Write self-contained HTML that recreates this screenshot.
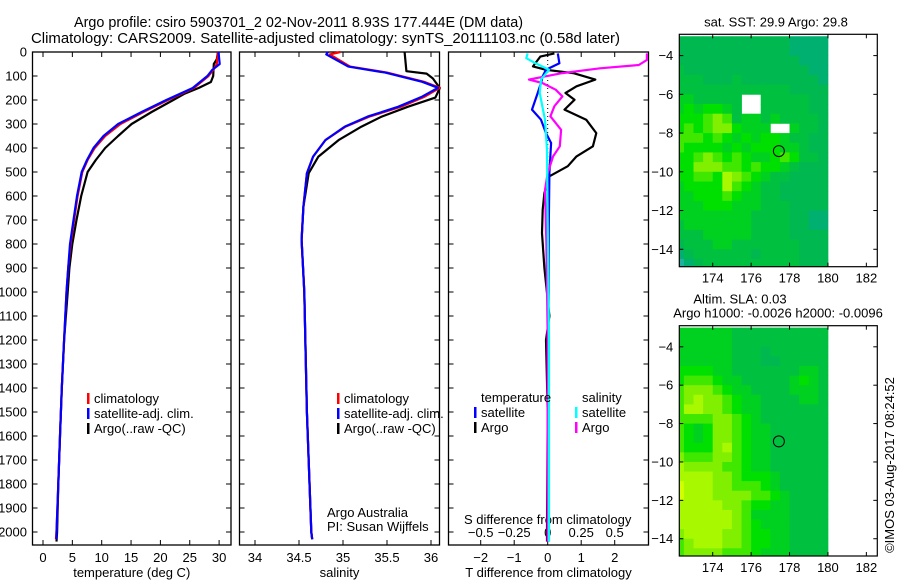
<!DOCTYPE html>
<html><head><meta charset="utf-8">
<style>
html,body{margin:0;padding:0;background:#fff;}
svg{display:block;font-family:"Liberation Sans",sans-serif;}
text{font-size:13px;fill:#000;}
</style></head>
<body>
<svg id="fig" width="900" height="580" viewBox="0 0 900 580">
<text x="74" y="27" textLength="449" lengthAdjust="spacingAndGlyphs" style="font-size:15px">Argo profile: csiro 5903701_2 02-Nov-2011 8.93S 177.444E (DM data)</text>
<text x="31" y="43" textLength="589" lengthAdjust="spacingAndGlyphs" style="font-size:15px">Climatology: CARS2009. Satellite-adjusted climatology: synTS_20111103.nc (0.58d later)</text>
<text transform="translate(894,465) rotate(-90)" text-anchor="middle">©IMOS 03-Aug-2017 08:24:52</text>
</svg>
<script>
// ---------- data ----------
const depthTicks=[0,100,200,300,400,500,600,700,800,900,1000,1100,1200,1300,1400,1500,1600,1700,1800,1900,2000];
const tempTicks=[0,5,10,15,20,25,30];
const salTicks=[34,34.5,35,35.5,36];
const tdiffTicks=[-2,-1,0,1,2];
const sdiffTicks=[-0.5,-0.25,0,0.25,0.5];
const sdiffLabels=["\u22120.5","\u22120.25","0","0.25","0.5"];
const tdiffLabels=["\u22122","\u22121","0","1","2"];

const argoTDepth=[0,30,50,100,125,150,175,200,250,300,350,400,450,500,600,700,800,900,1000,1200,1400,1600,1800,2000,2040];
const argoT=[29.8,29.6,29.1,29.0,28.6,26.5,24.0,22.2,18.5,15.1,12.8,10.6,9.0,7.6,6.5,5.7,5.0,4.5,4.2,3.6,3.2,2.9,2.6,2.4,2.3];
const satTDepth=[0,50,75,100,150,200,250,300,350,400,450,500,600,700,800,900,1000,1200,1400,1600,1800,2000,2030];
const satT=[29.9,30.1,28.8,28.0,25.5,21.0,16.8,12.8,10.3,8.6,7.5,6.6,5.8,5.2,4.6,4.3,4.0,3.6,3.2,2.9,2.6,2.3,2.3];
const climT=[29.8,29.6,29.0,28.2,25.7,21.3,17.1,13.2,10.6,8.8,7.6,6.7,5.9,5.3,4.7,4.3,4.0,3.6,3.2,2.9,2.6,2.3,2.2];

const satSDepth=[0,10,61,86,124,149,186,228,269,311,367,436,505,645,783,1000,1500,2000,2030];
const satS=[34.83,34.81,35.06,35.48,35.9,36.08,35.9,35.63,35.28,35.02,34.8,34.66,34.59,34.55,34.53,34.56,34.59,34.64,34.65];
const climS=[34.97,34.85,35.08,35.5,35.92,36.1,35.93,35.66,35.3,35.03,34.8,34.66,34.59,34.55,34.53,34.56,34.59,34.64,34.65];
const argoSDepth=[0,80,90,110,150,190,228,269,311,367,436,505,645,783,1000,1500,2000,2030];
const argoS=[35.7,35.72,35.95,36.02,36.1,36.05,35.74,35.44,35.21,34.95,34.72,34.61,34.55,34.53,34.56,34.59,34.64,34.65];

const dTDepth=[6,19,60,74,88,115,143,171,199,240,282,338,393,435,476,518,588,657,754,900,1100,1200,1500,2000,2040];
const argoDT=[0.2,-0.22,-0.44,-0.05,0.76,1.42,0.86,0.53,0.8,0.5,1.15,1.45,1.35,0.86,0.6,0.05,-0.1,-0.15,-0.17,-0.1,0.05,-0.05,0,-0.02,-0.02];
const satDTDepth=[6,47,74,101,129,171,240,282,338,379,504,754,1000,1250,1500,2000,2040];
const satDT=[0.3,0.35,-0.05,-0.15,-0.2,-0.3,-0.47,-0.2,-0.05,0.1,0.05,0.03,0.03,0.0,0.03,0.03,0.03];
const dSDepth=[6,33,54,68,88,115,129,157,185,226,268,324,393,435,504,574,800,1200,2000,2040];
const argoDS=[0.74,0.74,0.68,0.39,0.11,-0.14,-0.04,0.06,0.11,0.05,0.02,0.1,0.09,0.04,0,-0.02,-0.01,0,0,0];
const satDSDepth=[6,26,47,74,115,171,282,407,700,1200,2000,2040];
const satDS=[-0.15,-0.16,-0.09,0.01,-0.05,-0.06,-0.02,-0.005,0,0.01,0.01,0.01];

const lonTicks=[174,176,178,180,182];
const latTicks=[-4,-6,-8,-10,-12,-14];
const mapLon0=172.0, mapLat0=-3.0, cell=0.5;
const sstGrid=["2222222222221111","2222222222221111","2222222222222111","3222222222222211","3332223222222221","3333333333332222","4433333..3333322","4545543..3333322","5556763443433332","5656775444..4332","6665654545543322","6555545455544322","5567656544565332","5577766565543222","5566587654332222","4555586543322222","4455565443322222","4445554443332222","4444444433332211","3444444433332211","3334444433332222","2333443333333222","1233333323333222","0123333333333222"];
const slaGrid=["4444443333333333","4444443333333333","4444443332333333","4444443332233333","5555443333333443","5666544333334543","6777654433334443","6787765443333443","6887765443333333","6666776543333333","6545776544333333","6545776544333333","6555786544333333","7666776544333333","8777766544333333","8888776555433333","9888776665433333","9888777766543333","8888877655443333","8888887644443333","8888887654443333","7888877655443333","6788877655443333","6777766654443333"];
const palette=["#20b0a0","#00b070","#00b850","#00c040","#00d020","#00e000","#40e800","#80f000","#a8f800","#d0ff00"];
const argoLon=177.444, argoLat=-8.93;

// ---------- helpers ----------
const NS="http://www.w3.org/2000/svg";
const svg=document.getElementById('fig');
function mk(tag,attrs,parent){const e=document.createElementNS(NS,tag);for(const k in attrs)e.setAttribute(k,attrs[k]);(parent||svg).appendChild(e);return e;}
function txt(x,y,s,anchor,parent){const t=mk('text',{x:x,y:y,'text-anchor':anchor||'middle'},parent);t.textContent=s;return t;}

const TOP=52, BOT=545;
const yD=d=>TOP+d*0.24;

function panel(name,x0,x1,xs,ticks,labels,xlabel){
  const g=mk('g',{});
  
  
  const fr=mk('rect',{x:x0,y:TOP,width:x1-x0,height:BOT-TOP,fill:'none',stroke:'#000','stroke-width':1.3},g);
  
  
  ticks.forEach((v,i)=>{const x=xs(v);
    mk('line',{x1:x,y1:TOP,x2:x,y2:TOP+5,stroke:'#000'},g);
    mk('line',{x1:x,y1:BOT,x2:x,y2:BOT-5,stroke:'#000'},g);
    if(labels){const t=txt(x,562,labels[i],'middle',g);
      
      }
  });
  depthTicks.forEach(d=>{const y=yD(d);
    mk('line',{x1:x0,y1:y,x2:x0+5,y2:y,stroke:'#000'},g);
    mk('line',{x1:x1,y1:y,x2:x1-5,y2:y,stroke:'#000'},g);});
  if(xlabel){const t=txt((x0+x1)/2,577,xlabel,'middle',g);
    
    }
  return g;
}
function line(g,xs,xv,dv,color,name,w){
  const pts=xv.map((v,i)=>xs(v).toFixed(1)+','+yD(dv[i]).toFixed(1)).join(' ');
  const p=mk('polyline',{points:pts,fill:'none',stroke:color,'stroke-width':w||2.2,'stroke-linejoin':'round'},g);
  
  
}
function legend(g,x,y,items){
  items.forEach((it,i)=>{const yy=y+i*15;
    if(it[0]) mk('rect',{x:x,y:yy-10,width:2.5,height:11,fill:it[0]},g);
    const t=txt(x+7,yy,it[1],'start',g);
    
    });
}

// Panel 1 temperature
const xT=v=>43+v*5.87;
const g1=panel('temperature-panel',32.5,231,xT,tempTicks,tempTicks.map(String),'temperature (deg C)');
depthTicks.forEach(d=>{const t=txt(27,yD(d)+4.5,String(d),'end',g1);
  
  });
line(g1,xT,argoT,argoTDepth,'#000','argo-temperature-line');
line(g1,xT,climT,satTDepth,'#f00','climatology-temperature-line');
line(g1,xT,satT,satTDepth,'#00f','satellite-temperature-line');
legend(g1,87,403,[['#f00','climatology'],['#00f','satellite-adj. clim.'],['#000','Argo(..raw -QC)']]);

// Panel 2 salinity
const xS=v=>255+(v-34)*88;
const g2=panel('salinity-panel',239.5,439.5,xS,salTicks,salTicks.map(String),'salinity');
line(g2,xS,argoS,argoSDepth,'#000','argo-salinity-line');
line(g2,xS,climS,satSDepth,'#f00','climatology-salinity-line');
line(g2,xS,satS,satSDepth,'#00f','satellite-salinity-line');
legend(g2,337,403,[['#f00','climatology'],['#00f','satellite-adj. clim.'],['#000','Argo(..raw -QC)']]);
txt(327,517,'Argo Australia','start',g2);
txt(327,531,'PI: Susan Wijffels','start',g2);

// Panel 3 differences
const xDT=v=>547.7+v*33.5;
const xDS=v=>547.7+v*134;
const g3=panel('difference-panel',448.5,648.5,xDT,tdiffTicks,tdiffLabels,'T difference from climatology');
sdiffTicks.forEach((v,i)=>{const t=txt(xDS(v),537,sdiffLabels[i],'middle',g3);
  
  });
txt(547.7,524,'S difference from climatology','middle',g3);
mk('line',{x1:xDT(0),y1:TOP,x2:xDT(0),y2:yD(500),stroke:'#000','stroke-dasharray':'1,3'},g3);
line(g3,xDT,argoDT,dTDepth,'#000','argo-t-diff-line');
line(g3,xDT,satDT,satDTDepth,'#00f','satellite-t-diff-line');
line(g3,xDS,argoDS,dSDepth,'#f0f','argo-s-diff-line');
line(g3,xDS,satDS,satDSDepth,'#0ff','satellite-s-diff-line');
legend(g3,474,402,[[null,'temperature'],['#00f','satellite'],['#000','Argo']]);
legend(g3,575,402,[[null,'salinity'],['#0ff','satellite'],['#f0f','Argo']]);

// Maps
function map(name,top,bot,grid,titles){
  const L=679.3,R=877.3,lonA=172.26,lonB=182.57,latA=-2.9,latB=-14.9;
  const xs=v=>L+(v-lonA)*(R-L)/(lonB-lonA);
  const ys=v=>top+(v-latA)*(bot-top)/(latB-latA);
  const g=mk('g',{});
  
  
  const cid='clip'+name;
  const cp=mk('clipPath',{id:cid},g);
  mk('rect',{x:L,y:top,width:xs(180.05)-L,height:bot-top},cp);
  const cg=mk('g',{'clip-path':'url(#'+cid+')'},g);
  grid.forEach((row,r)=>{for(let c=0;c<row.length;c++){const ch=row[c];if(ch==='.')continue;
    const lon=mapLon0+c*cell, lat=mapLat0-r*cell;
    const x=xs(lon),y=ys(lat);
    const cellEl=mk('rect',{x:x.toFixed(2),y:y.toFixed(2),width:(xs(lon+cell)-x+0.4).toFixed(2),height:(ys(lat-cell)-y+0.4).toFixed(2),fill:palette[+ch]},cg);
    
    }});
  const fr=mk('rect',{x:L,y:top,width:R-L,height:bot-top,fill:'none',stroke:'#000','stroke-width':1.2},g);
  
  
  lonTicks.forEach(v=>{const x=xs(v);
    mk('line',{x1:x,y1:top,x2:x,y2:top+4,stroke:'#000'},g);
    mk('line',{x1:x,y1:bot,x2:x,y2:bot-4,stroke:'#000'},g);
    txt(x,bot+16,String(v),'middle',g);});
  latTicks.forEach(v=>{const y=ys(v);
    mk('line',{x1:L,y1:y,x2:L+4,y2:y,stroke:'#000'},g);
    mk('line',{x1:R,y1:y,x2:R-4,y2:y,stroke:'#000'},g);
    txt(L-6,y+4.5,'\u2212'+String(-v),'end',g);});
  const c=mk('circle',{cx:xs(argoLon),cy:ys(argoLat),r:5.5,fill:'none',stroke:'#000','stroke-width':1},g);
  
  
  titles.forEach((t,i)=>{const e=txt(t[1],top-8-(titles.length-1-i)*14,t[0],'middle',g);
    
    });
}
map('sst-map',34.3,266.7,sstGrid,[['sat. SST: 29.9 Argo: 29.8',776]]);
map('sla-map',325.7,556,slaGrid,[['Altim. SLA: 0.03',740],['Argo h1000: -0.0026 h2000: -0.0096',778]]);
</script>
</body></html>
